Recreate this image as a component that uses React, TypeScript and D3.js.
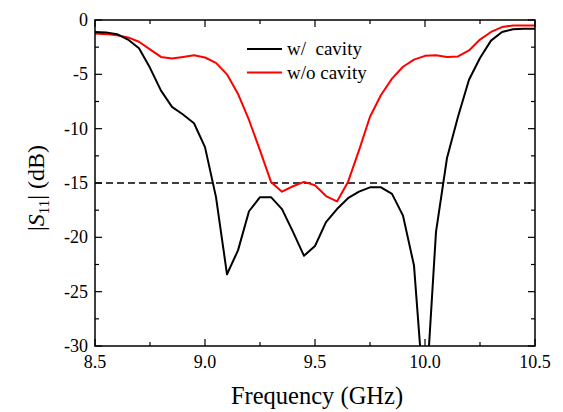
import React from 'react'
import * as d3 from 'd3'

// frequency sweep, GHz
const freqs = [
  8.5, 8.55, 8.6, 8.65, 8.7, 8.75, 8.8, 8.85, 8.9, 8.95,
  9.0, 9.05, 9.1, 9.15, 9.2, 9.25, 9.3, 9.35, 9.4, 9.45,
  9.5, 9.55, 9.6, 9.65, 9.7, 9.75, 9.8, 9.85, 9.9, 9.95,
  10.0, 10.05, 10.1, 10.15, 10.2, 10.25, 10.3, 10.35, 10.4, 10.45, 10.5,
]

// |S11| with cavity (dB)
const withCavity = [
  -1.1, -1.15, -1.3, -1.8, -2.6, -4.4, -6.5, -8.0, -8.7, -9.5,
  -11.7, -16.3, -23.4, -21.2, -17.6, -16.3, -16.3, -17.4, -19.5, -21.7,
  -20.8, -18.6, -17.4, -16.4, -15.8, -15.4, -15.4, -16.0, -18.0, -22.6,
  -36, -19.5, -12.7, -8.9, -5.5, -3.5, -1.9, -1.1, -0.85, -0.8, -0.8,
]

// |S11| without cavity (dB)
const withoutCavity = [
  -1.25, -1.3, -1.4, -1.6, -2.0, -2.7, -3.4, -3.55, -3.4, -3.25,
  -3.45, -3.95, -5.0, -6.8, -9.2, -12.0, -14.9, -15.8, -15.3, -14.9,
  -15.2, -16.2, -16.7, -14.9, -12.0, -8.9, -6.9, -5.4, -4.3, -3.65,
  -3.3, -3.25, -3.4, -3.35, -2.8, -1.8, -1.1, -0.65, -0.5, -0.5, -0.5,
]

const xMajor = [8.5, 9.0, 9.5, 10.0, 10.5]
const xMinor = [8.75, 9.25, 9.75, 10.25]
const yMajor = [0, -5, -10, -15, -20, -25, -30]
const yMinor = [-2.5, -7.5, -12.5, -17.5, -22.5, -27.5]
const threshold = -15

const legendItems = [
  { label: 'w/  cavity', color: '#000000' },
  { label: 'w/o cavity', color: '#ff0000' },
]

const W = 563
const H = 412
const margin = { top: 20, right: 28, bottom: 66, left: 95 }

export default function App() {
  const innerW = W - margin.left - margin.right
  const innerH = H - margin.top - margin.bottom

  const x = d3.scaleLinear().domain([8.5, 10.5]).range([0, innerW])
  const y = d3.scaleLinear().domain([0, -30]).range([0, innerH])

  const line = d3.line<number>()
    .x((_, i) => x(freqs[i]))
    .y(d => y(d))

  const majorLen = 7
  const minorLen = 4

  return (
    <svg width={W} height={H} className="s11chart" style={{ position: 'absolute', left: 0, top: 0, background: '#fff' }}>
      <style>{`.s11chart text { font-family: "Liberation Serif", "Times New Roman", serif; }`}</style>
      <defs>
        <clipPath id="plotClip">
          <rect x={0} y={0} width={innerW} height={innerH} />
        </clipPath>
      </defs>
      <g transform={`translate(${margin.left},${margin.top})`}>
        {/* threshold */}
        <line x1={0} x2={innerW} y1={y(threshold)} y2={y(threshold)}
          stroke="#000" strokeWidth={1.5} strokeDasharray="7,4" />

        <g clipPath="url(#plotClip)">
          <path d={line(withoutCavity) || ''} fill="none" stroke="#ff0000" strokeWidth={2} strokeLinejoin="round" />
          <path d={line(withCavity) || ''} fill="none" stroke="#000" strokeWidth={2} strokeLinejoin="round" />
        </g>

        {/* frame */}
        <rect x={0} y={0} width={innerW} height={innerH} fill="none" stroke="#000" strokeWidth={1.5} />

        {/* x ticks, bottom + top, inward */}
        {xMajor.map(v => (
          <g key={'xM' + v}>
            <line x1={x(v)} x2={x(v)} y1={innerH} y2={innerH - majorLen} stroke="#000" strokeWidth={1.2} />
            <line x1={x(v)} x2={x(v)} y1={0} y2={majorLen} stroke="#000" strokeWidth={1.2} />
            <text x={x(v)} y={innerH + 22} textAnchor="middle" fontSize={18}>{v.toFixed(1)}</text>
          </g>
        ))}
        {xMinor.map(v => (
          <g key={'xm' + v}>
            <line x1={x(v)} x2={x(v)} y1={innerH} y2={innerH - minorLen} stroke="#000" strokeWidth={1.2} />
            <line x1={x(v)} x2={x(v)} y1={0} y2={minorLen} stroke="#000" strokeWidth={1.2} />
          </g>
        ))}

        {/* y ticks, left + right, inward */}
        {yMajor.map(v => (
          <g key={'yM' + v}>
            <line x1={0} x2={majorLen} y1={y(v)} y2={y(v)} stroke="#000" strokeWidth={1.2} />
            <line x1={innerW} x2={innerW - majorLen} y1={y(v)} y2={y(v)} stroke="#000" strokeWidth={1.2} />
            <text x={-7} y={y(v)} dy="0.33em" textAnchor="end" fontSize={18}>{v}</text>
          </g>
        ))}
        {yMinor.map(v => (
          <g key={'ym' + v}>
            <line x1={0} x2={minorLen} y1={y(v)} y2={y(v)} stroke="#000" strokeWidth={1.2} />
            <line x1={innerW} x2={innerW - minorLen} y1={y(v)} y2={y(v)} stroke="#000" strokeWidth={1.2} />
          </g>
        ))}

        {/* legend */}
        {legendItems.map((it, i) => (
          <g key={it.label} transform={`translate(${152},${29 + i * 23.5})`}>
            <line x1={0} x2={35} y1={0} y2={0} stroke={it.color} strokeWidth={2} />
            <text x={40} y={0} dy="0.34em" fontSize={19} style={{ whiteSpace: 'pre' }}>{it.label}</text>
          </g>
        ))}

        {/* axis titles */}
        <text x={innerW / 2 + 2} y={innerH + 58} textAnchor="middle" fontSize={24.5}>Frequency (GHz)</text>
        <text transform={`translate(${-51},${innerH / 2 + 5}) rotate(-90)`} textAnchor="middle" fontSize={24}>
          |<tspan fontStyle="italic">S</tspan><tspan fontSize={15} dy={5}>11</tspan><tspan dy={-5}>| (dB)</tspan>
        </text>
      </g>
    </svg>
  )
}
